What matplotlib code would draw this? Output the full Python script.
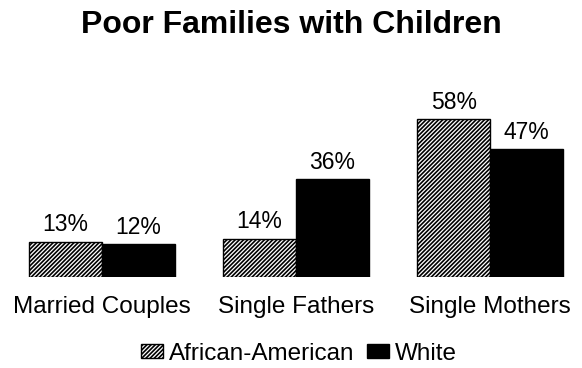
import numpy as np
import matplotlib.pyplot as plt
from matplotlib.patches import Patch

plt.rcParams['font.family'] = ['Liberation Sans', 'DejaVu Sans']
plt.rcParams['hatch.linewidth'] = 1.2

# Share of poor families with children, by family type
categorias = ["Married Couples", "Single Fathers", "Single Mothers"]
afro_americanos = [13, 14, 58]
brancos = [12, 36, 47]

W, H = 582, 368
fig = plt.figure(figsize=(W / 100, H / 100), dpi=100)
ax = fig.add_axes([0, 91 / H, 1, 277 / H])

x = np.arange(len(categorias))
largura = 0.375

b1 = ax.bar(x - largura / 2, afro_americanos, largura, color="white",
            edgecolor="black", hatch="////////", linewidth=1.0)
b2 = ax.bar(x + largura / 2, brancos, largura, color="black",
            edgecolor="black", linewidth=1.0)

for barras in (b1, b2):
    ax.bar_label(barras, labels=[f"{v}%" for v in barras.datavalues],
                 padding=4, fontsize=16.5)

ax.set_xlim(-102 / 194, (W - 102) / 194)
ax.set_ylim(0, 277 / 2.72)
ax.set_xticks(x)
ax.set_xticklabels(categorias, fontsize=17.5)
ax.tick_params(axis="x", length=0, pad=14)
ax.set_yticks([])
for s in ax.spines.values():
    s.set_visible(False)

fig.text(0.5, 1 - 33 / H, "Poor Families with Children", ha="center",
         va="baseline", fontsize=23, fontweight="bold")

handles = [Patch(facecolor="white", edgecolor="black", hatch="////////"),
           Patch(facecolor="black", edgecolor="black")]
fig.legend(handles, ["African-American", "White"], loc="center",
           bbox_to_anchor=(299 / W, 1 - 354 / H), ncol=2, frameon=False,
           fontsize=17.5, handlelength=0.9, handleheight=0.5,
           handletextpad=0.25, columnspacing=0.53, borderpad=0)

fig.savefig("out.png", dpi=100)
